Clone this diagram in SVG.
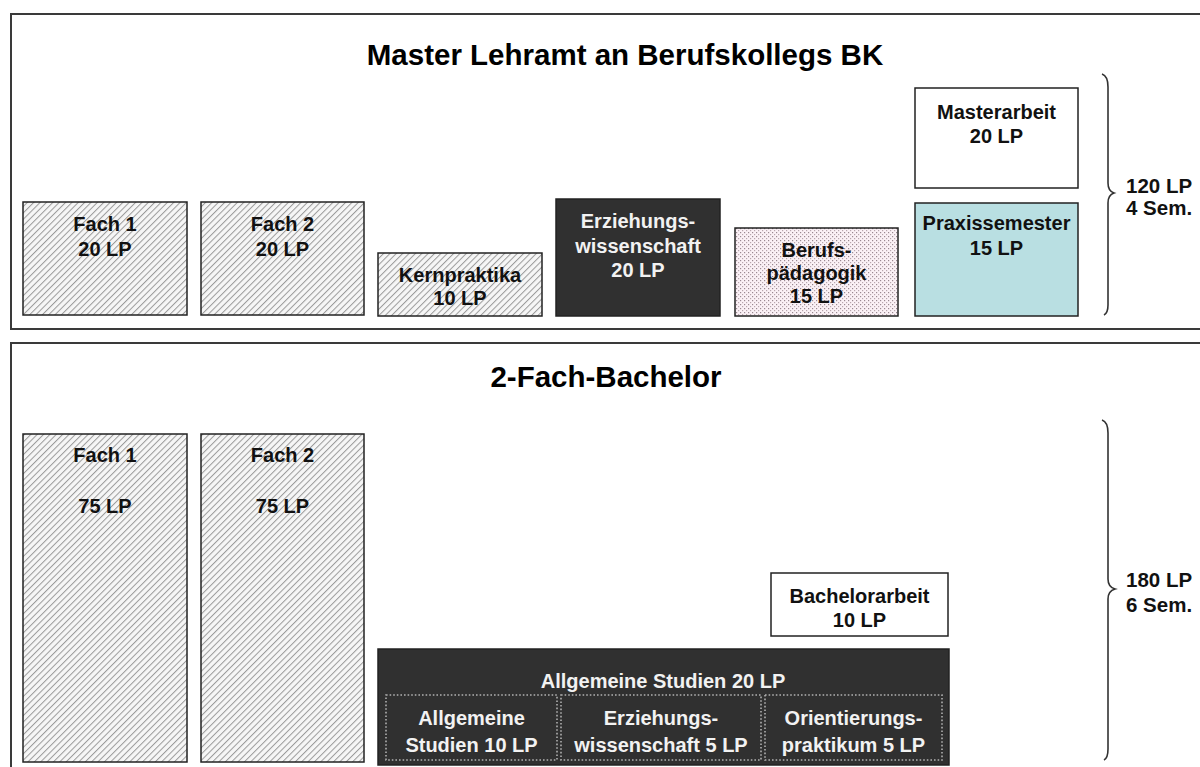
<svg xmlns="http://www.w3.org/2000/svg" width="1200" height="767" viewBox="0 0 1200 767">
<defs>
<pattern id="hatch" patternUnits="userSpaceOnUse" width="4.5" height="4.5" patternTransform="rotate(45)">
<rect width="4.5" height="4.5" fill="#f6f6f6"/>
<line x1="0.5" y1="0" x2="0.5" y2="4.5" stroke="#9a9a9a" stroke-width="1"/>
</pattern>
<pattern id="dots" patternUnits="userSpaceOnUse" width="4" height="4">
<rect width="4" height="4" fill="#fbf1f6"/>
<rect x="0" y="0" width="1.2" height="1.2" fill="#9a8891"/>
<rect x="2" y="2" width="1.2" height="1.2" fill="#b8a6ae"/>
</pattern>
<style>
.panel{fill:#fff;stroke:#3a3a3a;stroke-width:2}
.box{stroke:#222;stroke-width:1.5}
.h{fill:url(#hatch)}
.d{fill:url(#dots)}
.dark{fill:#303030}
.white{fill:#fff}
.blue{fill:#b9dfe2}
.inner{fill:none;stroke:#b0b0b0;stroke-width:1.6;stroke-dasharray:1.6 2}
text{font-family:"Liberation Sans",Arial,sans-serif;font-weight:bold;text-anchor:middle}
.t{font-size:20px;fill:#111}
.tw{font-size:20px;fill:#f2f2f2}
.title{font-size:29.5px;fill:#000}
.side{font-size:20.5px;fill:#111;text-anchor:start}
.brace{fill:none;stroke:#333;stroke-width:1.6}
</style>
</defs>
<rect width="1200" height="767" fill="#fff"/>

<g id="panel-master">
<rect class="panel" x="11" y="14" width="1200" height="315"/>
<text class="title" x="625" y="65">Master Lehramt an Berufskollegs BK</text>
</g>
<g id="panel-bachelor">
<rect class="panel" x="11" y="343" width="1200" height="440"/>
<text class="title" x="606" y="387">2-Fach-Bachelor</text>
</g>

<g id="m-fach1">
<rect class="box h" x="23" y="202" width="164" height="113"/>
<text class="t" x="105" y="231">Fach 1</text>
<text class="t" x="105" y="256">20 LP</text>
</g>
<g id="m-fach2">
<rect class="box h" x="201" y="202" width="163" height="113"/>
<text class="t" x="282.5" y="231">Fach 2</text>
<text class="t" x="282.5" y="256">20 LP</text>
</g>
<g id="m-kernpraktika">
<rect class="box h" x="378" y="253" width="164" height="63"/>
<text class="t" x="460" y="282">Kernpraktika</text>
<text class="t" x="460" y="305">10 LP</text>
</g>
<g id="m-erziehungswissenschaft">
<rect class="box dark" x="556" y="199" width="164" height="117"/>
<text class="tw" x="638" y="228">Erziehungs-</text>
<text class="tw" x="638" y="253">wissenschaft</text>
<text class="tw" x="638" y="277">20 LP</text>
</g>
<g id="m-berufspaedagogik">
<rect class="box d" x="735" y="228" width="163" height="88"/>
<text class="t" x="816.5" y="257">Berufs-</text>
<text class="t" x="816.5" y="280">pädagogik</text>
<text class="t" x="816.5" y="303">15 LP</text>
</g>
<g id="m-masterarbeit">
<rect class="box white" x="915" y="88" width="163" height="100"/>
<text class="t" x="996.5" y="119">Masterarbeit</text>
<text class="t" x="996.5" y="143">20 LP</text>
</g>
<g id="m-praxissemester">
<rect class="box blue" x="915" y="203" width="163" height="113"/>
<text class="t" x="996.5" y="230">Praxissemester</text>
<text class="t" x="996.5" y="255">15 LP</text>
</g>
<g id="m-total">
<text class="side" x="1126" y="193">120 LP</text>
<text class="side" x="1126" y="215">4 Sem.</text>
</g>

<g id="b-fach1">
<rect class="box h" x="23" y="434" width="164" height="328"/>
<text class="t" x="105" y="462">Fach 1</text>
<text class="t" x="105" y="513">75 LP</text>
</g>
<g id="b-fach2">
<rect class="box h" x="201" y="434" width="163" height="328"/>
<text class="t" x="282.5" y="462">Fach 2</text>
<text class="t" x="282.5" y="513">75 LP</text>
</g>
<g id="b-bachelorarbeit">
<rect class="box white" x="771" y="573" width="177" height="63"/>
<text class="t" x="859.5" y="603">Bachelorarbeit</text>
<text class="t" x="859.5" y="627">10 LP</text>
</g>
<g id="b-allgemeine-studien">
<rect class="box dark" x="378" y="649" width="571" height="116"/>
<text class="tw" x="663" y="688">Allgemeine Studien 20 LP</text>
</g>
<g id="b-as-allgemeine">
<rect class="inner" x="386" y="695" width="171" height="65"/>
<text class="tw" x="471.5" y="725">Allgemeine</text>
<text class="tw" x="471.5" y="752">Studien 10 LP</text>
</g>
<g id="b-as-erziehungswissenschaft">
<rect class="inner" x="561" y="695" width="200" height="65"/>
<text class="tw" x="661" y="725">Erziehungs-</text>
<text class="tw" x="661" y="752">wissenschaft 5 LP</text>
</g>
<g id="b-as-orientierungspraktikum">
<rect class="inner" x="765" y="695" width="177" height="65"/>
<text class="tw" x="853.5" y="725">Orientierungs-</text>
<text class="tw" x="853.5" y="752">praktikum 5 LP</text>
</g>
<g id="b-total">
<text class="side" x="1126" y="587">180 LP</text>
<text class="side" x="1126" y="612">6 Sem.</text>
</g>

<g id="braces">
<path class="brace" d="M1102,74 Q1108,76 1108,87 L1108,183 Q1108,191 1114,193 Q1108,195 1108,203 L1108,305 Q1108,313 1104,315"/>
<path class="brace" d="M1102,420 Q1108,422 1108,433 L1108,579 Q1108,587 1115,589 Q1108,591 1108,599 L1108,749 Q1108,758 1104,760"/>
</g>
</svg>
